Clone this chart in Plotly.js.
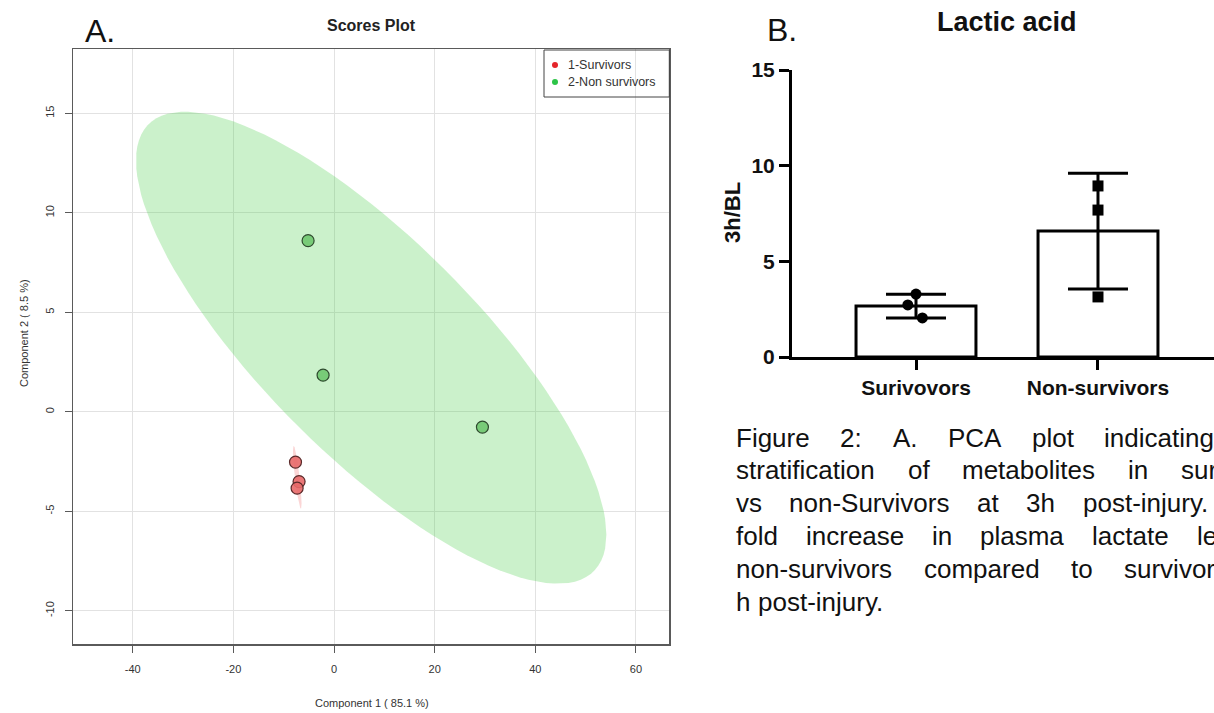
<!DOCTYPE html>
<html><head><meta charset="utf-8">
<script src="https://cdn.plot.ly/plotly-3.0.1.min.js"></script>
<style>html,body{margin:0;padding:0;background:#fff;overflow:hidden}#chart{width:1214px;height:713px}</style>
</head><body><div id="chart"></div>
<script>
const W = 1214, H = 713;
// ---- Panel A: PCA scores ----
const groupLabels = ["1-Survivors", "2-Non survivors"];
const survivorsPC1 = [-7.65, -6.94, -7.33];
const survivorsPC2 = [-2.53, -3.51, -3.84];
const nonSurvivorsPC1 = [-5.15, -2.17, 29.49];
const nonSurvivorsPC2 = [8.60, 1.84, -0.77];
// 95% confidence ellipses: centre and Cholesky factor of covariance
const survivorsEllipse = {cx: -7.3, cy: -3.29, l11: 0.85, l21: -1.29, l22: 0.89};
const nonSurvivorsEllipse = {cx: 7.39, cy: 3.22, l11: 46.73, l21: -9.40, l22: 7.23};
const pcaXTicks = [-40, -20, 0, 20, 40, 60];
const pcaYTicks = [-10, -5, 0, 5, 10, 15];
// ---- Panel B: Lactic acid ----
const barCategories = ["Surivovors", "Non-survivors"];
const barMeans = [2.66, 6.58];
const barSD = [0.62, 3.03];
const survivorsLactate = [3.29, 2.72, 2.04];
const nonSurvivorsLactate = [8.94, 7.68, 3.14];
const survivorsJitter = [0, -0.045, 0.035];
const nonSurvivorsJitter = [0, 0, 0];
const barYTicks = [0, 5, 10, 15];
// ---- Caption ----
const captionLines = [
  "Figure 2: A. PCA plot indicating",
  "stratification of metabolites in sur",
  "vs non-Survivors at 3h post-injury.",
  "fold increase in plasma lactate le",
  "non-survivors compared to survivor",
  "h post-injury."
];

const FONT = "Liberation Sans, Arial, Helvetica, sans-serif";
const px = x => x / W;
const py = y => 1 - y / H;

function ellipse(e) {
  const xs = [], ys = [];
  for (let i = 0; i <= 120; i++) {
    const t = 2 * Math.PI * i / 120;
    xs.push(e.cx + e.l11 * Math.cos(t));
    ys.push(e.cy + e.l21 * Math.cos(t) + e.l22 * Math.sin(t));
  }
  return {xs, ys};
}
const eG = ellipse(nonSurvivorsEllipse), eR = ellipse(survivorsEllipse);

const traces = [
  {type: "scatter", mode: "lines", x: eG.xs, y: eG.ys, fill: "toself",
   fillcolor: "rgba(70,205,70,0.28)", line: {width: 0}, hoverinfo: "skip", showlegend: false, xaxis: "x", yaxis: "y"},
  {type: "scatter", mode: "lines", x: eR.xs, y: eR.ys, fill: "toself",
   fillcolor: "rgba(240,90,90,0.25)", line: {width: 0}, hoverinfo: "skip", showlegend: false, xaxis: "x", yaxis: "y"},
  {type: "scatter", mode: "markers", x: survivorsPC1, y: survivorsPC2, name: groupLabels[0], showlegend: false,
   marker: {size: 12, color: "rgba(232,105,105,0.9)", line: {color: "#5a2a2a", width: 1.2}}, xaxis: "x", yaxis: "y"},
  {type: "scatter", mode: "markers", x: nonSurvivorsPC1, y: nonSurvivorsPC2, name: groupLabels[1], showlegend: false,
   marker: {size: 12, color: "rgba(115,200,115,0.95)", line: {color: "#2e4a2e", width: 1.2}}, xaxis: "x", yaxis: "y"},
  {type: "bar", x: [0, 1], y: barMeans, width: 0.659, showlegend: false,
   marker: {color: "#ffffff", line: {color: "#000", width: 3}},
   error_y: {type: "data", array: barSD, visible: true, color: "#000", thickness: 3, width: 30},
   xaxis: "x2", yaxis: "y2"},
  {type: "scatter", mode: "markers", x: survivorsLactate.map((v, i) => 0 + survivorsJitter[i]), y: survivorsLactate,
   marker: {size: 11, color: "#000", symbol: "circle"}, showlegend: false, xaxis: "x2", yaxis: "y2"},
  {type: "scatter", mode: "markers", x: nonSurvivorsLactate.map((v, i) => 1 + nonSurvivorsJitter[i]), y: nonSurvivorsLactate,
   marker: {size: 11, color: "#000", symbol: "square"}, showlegend: false, xaxis: "x2", yaxis: "y2"}
];

const pcaAxis = {
  showgrid: true, gridcolor: "#e2e2e2", gridwidth: 1, zeroline: false,
  showline: true, mirror: true, linecolor: "#5a5a5a", linewidth: 1.5,
  ticks: "outside", ticklen: 7, tickcolor: "#5a5a5a", tickwidth: 1,
  tickfont: {family: FONT, size: 11, color: "#333"}
};
const barAxis = {
  showgrid: false, zeroline: false, showline: true, linecolor: "#000", linewidth: 3,
  ticks: "outside", ticklen: 10, tickwidth: 3, tickcolor: "#000",
  tickfont: {family: FONT, size: 21, color: "#111", weight: "bold"}
};

const annotations = [
  {text: "A.", x: px(100), y: py(31), font: {family: FONT, size: 32, color: "#111"}},
  {text: "B.", x: px(782), y: py(30), font: {family: FONT, size: 32, color: "#111"}},
  {text: "Scores Plot", x: px(371.5), y: py(25), font: {family: FONT, size: 16, color: "#222", weight: "bold"}},
  {text: "Component 1 ( 85.1 %)", x: px(371.5), y: py(703), font: {family: FONT, size: 11, color: "#333"}},
  {text: "Component 2 ( 8.5 %)", x: px(24), y: py(333), textangle: -90, font: {family: FONT, size: 11, color: "#333"}},
  {text: "Lactic acid", x: px(1007), y: py(22), font: {family: FONT, size: 27, color: "#111", weight: "bold"}},
  {text: "3h/BL", x: px(732), y: py(213), textangle: -90, font: {family: FONT, size: 22, color: "#111", weight: "bold"}},
  {text: groupLabels[0], x: px(566), y: py(65), xanchor: "left", font: {family: FONT, size: 12.5, color: "#333"}},
  {text: groupLabels[1], x: px(566), y: py(82), xanchor: "left", font: {family: FONT, size: 12.5, color: "#333"}}
].map(a => Object.assign({xref: "paper", yref: "paper", showarrow: false, xanchor: "center", yanchor: "middle"}, a));

// justified caption
const ctx = document.createElement("canvas").getContext("2d");
const capSize = 26;
ctx.font = capSize + "px 'Liberation Sans', Arial, sans-serif";
const capLeft = 735;
const capRight = [1213, 1216, 1207, 1216, 1214, null];
captionLines.forEach((line, li) => {
  const words = line.split(" ");
  const widths = words.map(w => ctx.measureText(w).width);
  const total = widths.reduce((a, b) => a + b, 0);
  let gap = ctx.measureText(" ").width;
  if (capRight[li] !== null && words.length > 1) gap = (capRight[li] - capLeft - total) / (words.length - 1);
  let x = capLeft;
  words.forEach((w, wi) => {
    annotations.push({xref: "paper", yref: "paper", showarrow: false, xanchor: "left", yanchor: "middle",
      x: px(x - 1), y: py(437.5 + 32.8 * li), text: w, font: {family: FONT, size: capSize, color: "#111"}});
    x += widths[wi] + gap;
  });
});

const shapes = [
  {type: "rect", xref: "paper", yref: "paper", x0: px(544), x1: px(669.3), y0: py(97), y1: py(50),
   line: {color: "#444", width: 1}, fillcolor: "rgba(255,255,255,0)"},
  {type: "circle", xref: "paper", yref: "paper", x0: px(552), x1: px(558), y0: py(68), y1: py(62),
   fillcolor: "#e4252a", line: {width: 0}},
  {type: "circle", xref: "paper", yref: "paper", x0: px(552), x1: px(558), y0: py(85), y1: py(79),
   fillcolor: "#2cc447", line: {width: 0}}
];

const layout = {
  width: W, height: H, margin: {l: 0, r: 0, t: 0, b: 0},
  paper_bgcolor: "#fff", plot_bgcolor: "rgba(0,0,0,0)", showlegend: false,
  xaxis: Object.assign({}, pcaAxis, {domain: [px(73.3), px(669.3)], range: [-51.8, 66.62], tickvals: pcaXTicks, ticktext: pcaXTicks.map(String), anchor: "y", ticklabelstandoff: 7}),
  yaxis: Object.assign({}, pcaAxis, {domain: [py(644), py(49)], range: [-11.67, 18.23], tickvals: pcaYTicks, ticktext: pcaYTicks.map(String), tickangle: -90, anchor: "x", ticklabelstandoff: 6}),
  xaxis2: Object.assign({}, barAxis, {domain: [px(792), 1], range: [-0.6813, 1.6374], tickvals: [0, 1], ticktext: barCategories, anchor: "y2"}),
  yaxis2: Object.assign({}, barAxis, {domain: [py(357), py(70)], range: [0, 15], tickvals: barYTicks, anchor: "x2"}),
  annotations, shapes
};
Plotly.newPlot("chart", traces, layout, {staticPlot: true, displayModeBar: false});
</script></body></html>
